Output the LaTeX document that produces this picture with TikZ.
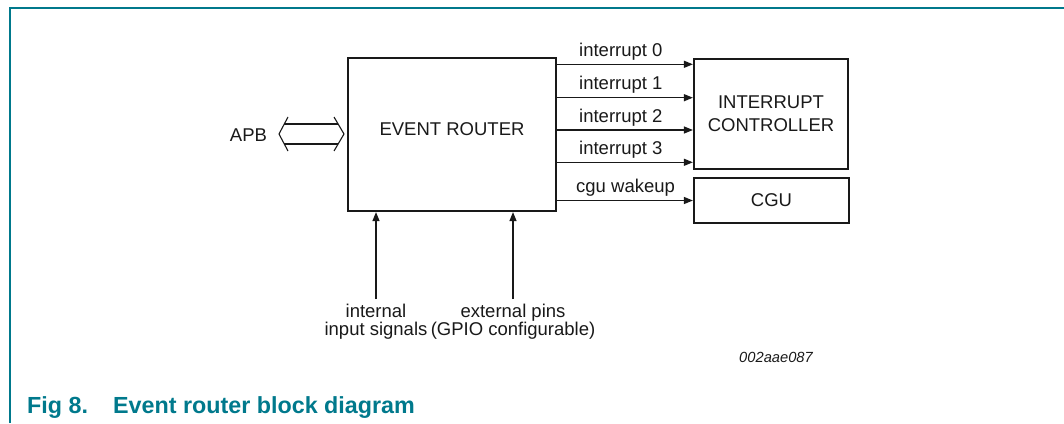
\documentclass[tikz,border=0pt]{standalone}
\usepackage{fontspec}
\setmainfont{Liberation Sans}
\usepackage{xcolor}
\usepackage{tikz}
\usetikzlibrary{arrows.meta}

\definecolor{figteal}{RGB}{0,121,140}
\definecolor{ink}{RGB}{25,25,25}

\newcommand{\lblfont}{\fontsize{18.5}{18.3}\selectfont}

\tikzset{
	block/.style={draw=ink, line width=2.2pt, inner sep=0pt, text=ink, align=center,
		font=\fontsize{18.5}{23}\selectfont},
	lbl/.style={inner sep=0pt, text=ink, align=center, font=\lblfont},
	sig/.style={draw=ink, line width=1.3pt, ->},
	>={Triangle[length=9pt,width=7pt]}
}

\begin{document}
\begin{tikzpicture}[x=1pt,y=-1pt]
		\useasboundingbox (0,0) rectangle (1064,423);
		
		% draw the frame
		\draw[figteal, line width=1.4pt] (10,423) -- (10,8) -- (1064,8);
		
		% draw the three blocks
		\node[block, minimum width=208pt, minimum height=153pt] (router) at (452,134.5) {};
		\node[lbl] (routertxt) at (452,129) {EVENT ROUTER};
		\node[block, minimum width=154pt, minimum height=110pt] (intc) at (771,114) {INTERRUPT\\CONTROLLER};
		\node[block, minimum width=155pt, minimum height=45pt] (cgu) at (771.5,200.5) {CGU};
		
		% draw the interrupt lines and their labels
		\foreach \i/\y in {0/64.3,1/97.7,2/130,3/162.3}{
			\draw[sig] (router.east |- 0,\y) -- (intc.west |- 0,\y);
			\node[lbl, anchor=base west] (irq\i) at (579,\y-8) {interrupt \i};
		}
		
		% draw the wakeup line
		\draw[sig] (router.east |- cgu.west) -- (cgu.west);
		\node[lbl, anchor=base west] (wakeup) at (576,192.5) {cgu wakeup};
		
		% draw the bus arrow
		\node[lbl] (apb) at (248.5,135) {APB};
		\draw[ink, line width=1.1pt] (288,117) -- (279,134) -- (288,151);
		\draw[ink, line width=1.1pt] (334,117) -- (344,134) -- (334,151);
		\draw[ink, line width=1.1pt] (284.3,124) -- (338.1,124);
		\draw[ink, line width=1.1pt] (284.3,144) -- (338.1,144);
		
		% draw the inputs from below
		\node[lbl, anchor=north] (intin) at (376,304) {internal\\input signals};
		\node[lbl, anchor=north] (extin) at (513,304) {external pins\\(GPIO configurable)};
		\draw[sig] ([yshift=5pt]intin.north) -- (intin.north |- router.south);
		\draw[sig] ([yshift=5pt]extin.north) -- (extin.north |- router.south);
		
		% figure number and caption
		\node[inner sep=0pt, anchor=base east, text=ink, font=\fontsize{14.7}{17}\selectfont\itshape] (figid) at (813,362) {002aae087};
		\node[inner sep=0pt, anchor=base west, text=figteal, font=\fontsize{23.3}{28}\selectfont\bfseries] (fignum) at (27,413) {Fig 8.};
		\node[inner sep=0pt, anchor=base west, text=figteal, font=\fontsize{23.3}{28}\selectfont\bfseries] (figtitle) at (113,413) {Event router block diagram};
\end{tikzpicture}
\end{document}
